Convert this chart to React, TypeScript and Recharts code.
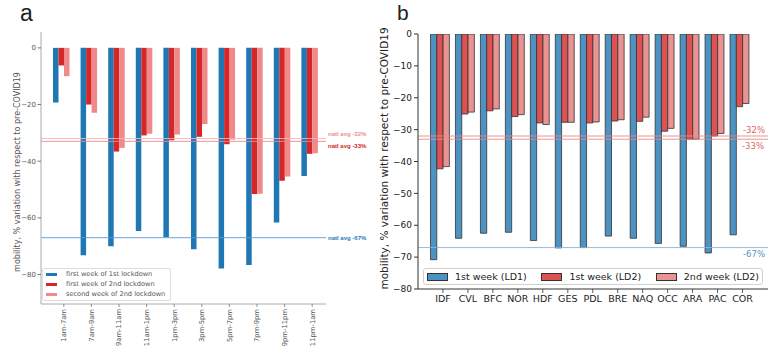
import { BarChart, Bar, XAxis, YAxis, ReferenceLine, Legend } from 'recharts';

// panel a: hourly mobility
const hours = ['1am-7am', '7am-9am', '9am-11am', '11am-1pm', '1pm-3pm', '3pm-5pm', '5pm-7pm', '7pm-9pm', '9pm-11pm', '11pm-1am'];
const hourLd1 = [-19.3, -73.2, -70, -64.6, -66.8, -71.1, -77.9, -76.6, -61.6, -45.2];
const hourLd2w1 = [-6.2, -20, -36.6, -30.9, -32.6, -31.4, -34, -51.6, -46.9, -37.4];
const hourLd2w2 = [-10, -22.9, -35.3, -30.3, -30.6, -26.9, -32.4, -51.5, -45.4, -37.2];
const hourTicks = [0, -20, -40, -60, -80];

// panel b: regions
const regions = ['IDF', 'CVL', 'BFC', 'NOR', 'HDF', 'GES', 'PDL', 'BRE', 'NAQ', 'OCC', 'ARA', 'PAC', 'COR'];
const regLd1 = [-70.8, -64.1, -62.5, -62.2, -64.8, -67.1, -67, -63.4, -64.1, -65.7, -66.6, -68.7, -63];
const regLd2w1 = [-42.3, -25.1, -24.1, -25.9, -27.9, -27.7, -27.9, -27.3, -27.4, -30.5, -33, -32, -22.8];
const regLd2w2 = [-41.6, -24.5, -23.5, -25.3, -28.4, -27.7, -27.6, -26.9, -26.1, -29.6, -33, -31.2, -21.8];
const regTicks = [0, -10, -20, -30, -40, -50, -60, -70, -80];

const hourData = hours.map((h, i) => ({ name: h, ld1: hourLd1[i], ld2w1: hourLd2w1[i], ld2w2: hourLd2w2[i] }));
const regData = regions.map((r, i) => ({ name: r, ld1: regLd1[i], ld2w1: regLd2w1[i], ld2w2: regLd2w2[i] }));

const FONT = 'DejaVu Sans';
const yLabel = 'mobility, % variation with respect to pre-COVID19';
const minus = (v: number) => (v < 0 ? '\u2212' + Math.abs(v) : String(v));

// matplotlib put the ticks a few px right of the bar groups
const HourTick = (props: any) => {
  const { x, y, payload } = props;
  const cx = x + 3;
  return (
    <g>
      <line x1={cx} x2={cx} y1={y - 5} y2={y - 2} stroke="#777" strokeWidth={0.8} />
      <text transform={`translate(${cx},${y}) rotate(-90)`} textAnchor="end" dy="0.35em" fontSize={6.8} fill="#555" fontFamily={FONT}>
        {payload.value}
      </text>
    </g>
  );
};

const RegionTick = (props: any) => {
  const { x, y, payload } = props;
  const cx = x + 3;
  return (
    <g>
      <line x1={cx} x2={cx} y1={y - 6} y2={y - 2} stroke="#333" strokeWidth={0.8} />
      <text x={cx} y={y} dy="0.71em" textAnchor="middle" fontSize={9.5} fill="#222" fontFamily={FONT}>
        {payload.value}
      </text>
    </g>
  );
};

const LegendA = ({ payload }: any) => (
  <div style={{ border: '1px solid #ddd', borderRadius: 2, background: 'rgba(255,255,255,0.85)', padding: '0 3px 1px 3px', width: 129, boxSizing: 'border-box' as const, fontFamily: FONT, textAlign: 'left' as const }}>
    {(payload || []).map((e: any) => (
      <div key={e.value} style={{ display: 'flex', alignItems: 'center', height: 10 }}>
        <span style={{ flexShrink: 0, width: 11, height: 3, background: e.color, marginRight: 9 }} />
        <span style={{ fontSize: 6.6, color: '#555', whiteSpace: 'nowrap' }}>{e.value}</span>
      </div>
    ))}
  </div>
);

const LegendB = ({ payload }: any) => (
  <div style={{ border: '1px solid #d0d0d0', borderRadius: 3, background: 'rgba(255,255,255,0.85)', padding: '0 3px', width: 340, height: 17, boxSizing: 'border-box' as const, display: 'flex', alignItems: 'center', justifyContent: 'space-between', fontFamily: FONT }}>
    {(payload || []).map((e: any) => (
      <div key={e.value} style={{ display: 'flex', alignItems: 'center' }}>
        <span style={{ flexShrink: 0, width: 19, height: 6, background: e.color, border: '0.8px solid #333', marginRight: 7 }} />
        <span style={{ fontSize: 9.5, color: '#222', whiteSpace: 'nowrap' }}>{e.value}</span>
      </div>
    ))}
  </div>
);

export default function App() {
  return (
    <div style={{ position: 'absolute', left: 0, top: 0, width: 780, height: 353, background: '#fff', overflow: 'hidden' }}>
      <div style={{ position: 'absolute', left: 20, top: 0, fontFamily: 'Liberation Sans', fontSize: 23, color: '#222', lineHeight: '26px' }}>a</div>
      <div style={{ position: 'absolute', left: 397, top: 0, fontFamily: 'Liberation Sans', fontSize: 21, color: '#222', lineHeight: '25px' }}>b</div>

      <div style={{ position: 'absolute', left: 0, top: 0 }}>
        <BarChart width={390} height={353} data={hourData} margin={{ top: 32, right: 64, bottom: 0, left: 0 }} barGap={0} barSize={5.5}>
          <XAxis dataKey="name" height={49} padding={{ left: 6, right: 3 }} interval={0} tickSize={3} tickMargin={2} tickLine={false} axisLine={{ stroke: '#aaa' }} tick={<HourTick />} />
          <XAxis xAxisId="top" orientation="top" dataKey="name" height={0} tick={false} tickLine={false} axisLine={{ stroke: '#aaa' }} />
          <YAxis width={41} domain={[-90.4, 5.6]} ticks={hourTicks} allowDataOverflow tickFormatter={minus} tickSize={3.5} tickMargin={1.5}
            tick={{ fontSize: 7, fill: '#555', fontFamily: FONT }} tickLine={{ stroke: '#777' }} axisLine={{ stroke: '#aaa' }}
            label={{ value: yLabel, angle: -90, position: 'center', dx: -3.5, dy: 4, fontSize: 8, fill: '#555', fontFamily: FONT }} />
          <YAxis yAxisId="right" orientation="right" width={0} domain={[0, 1]} tick={false} tickLine={false} axisLine={{ stroke: '#aaa' }} />
          <ReferenceLine y={-67} stroke="#5b9bd5" strokeWidth={0.9}
            label={{ value: 'natl avg -67%', position: 'right', offset: 2, fontSize: 6, fontWeight: 'bold', fill: '#2a7bbd', fontFamily: 'Liberation Sans' }} />
          <ReferenceLine y={-32} stroke="#f5b5b5" strokeWidth={0.9}
            label={{ value: 'natl avg -32%', position: 'right', offset: 2, dy: -5, fontSize: 6, fontWeight: 'bold', fill: '#ef8e8e', fontFamily: 'Liberation Sans' }} />
          <ReferenceLine y={-33} stroke="#ec8a8a" strokeWidth={0.9}
            label={{ value: 'natl avg -33%', position: 'right', offset: 2, dy: 5, fontSize: 6, fontWeight: 'bold', fill: '#d62728', fontFamily: 'Liberation Sans' }} />
          <Bar dataKey="ld1" name="first week of 1st lockdown" fill="#1f77b4" isAnimationActive={false} />
          <Bar dataKey="ld2w1" name="first week of 2nd lockdown" fill="#d62728" isAnimationActive={false} />
          <Bar dataKey="ld2w2" name="second week of 2nd lockdown" fill="#f08a8a" isAnimationActive={false} />
          <Legend layout="vertical" align="center" verticalAlign="middle" content={<LegendA />}
            wrapperStyle={{ left: 42, top: 268, bottom: 'auto', width: 129 }} />
        </BarChart>
      </div>

      <div style={{ position: 'absolute', left: 370, top: 0 }}>
        <BarChart width={410} height={353} data={regData} margin={{ top: 34, right: 12, bottom: 0, left: 0 }} barGap={0} barSize={6.3}>
          <XAxis dataKey="name" height={64} padding={{ left: 9.5, right: 16 }} interval={0} tickSize={4} tickMargin={2} tickLine={false} axisLine={{ stroke: '#333' }} tick={<RegionTick />} />
          <XAxis xAxisId="top" orientation="top" dataKey="name" height={0} tick={false} tickLine={false} axisLine={{ stroke: '#333' }} />
          <YAxis width={48} domain={[-80, 0]} ticks={regTicks} allowDataOverflow tickFormatter={minus} tickSize={4} tickMargin={2}
            tick={{ fontSize: 9, fill: '#222', fontFamily: FONT }} tickLine={{ stroke: '#333' }} axisLine={{ stroke: '#333' }}
            label={{ value: yLabel, angle: -90, position: 'center', dx: -10, dy: -3, fontSize: 10.5, fill: '#222', fontFamily: FONT }} />
          <YAxis yAxisId="right" orientation="right" width={0} domain={[0, 1]} tick={false} tickLine={false} axisLine={{ stroke: '#333' }} />
          <ReferenceLine y={-67} stroke="#8ab2d6" strokeWidth={0.9}
            label={{ value: '-67%', position: 'insideTopRight', offset: 3, fontSize: 8.5, fill: '#5b8fc7', fontFamily: FONT }} />
          <ReferenceLine y={-32} stroke="#e58a8a" strokeWidth={0.9}
            label={{ value: '-32%', position: 'insideBottomRight', offset: 3, fontSize: 8.5, fill: '#e06666', fontFamily: FONT }} />
          <ReferenceLine y={-33} stroke="#e58a8a" strokeWidth={0.9}
            label={{ value: '-33%', position: 'insideTopRight', offset: 4, fontSize: 8.5, fill: '#e06666', fontFamily: FONT }} />
          <Bar dataKey="ld1" name="1st week (LD1)" fill="#4c92c3" stroke="#333" strokeWidth={0.8} isAnimationActive={false} />
          <Bar dataKey="ld2w1" name="1st week (LD2)" fill="#de5253" stroke="#333" strokeWidth={0.8} isAnimationActive={false} />
          <Bar dataKey="ld2w2" name="2nd week (LD2)" fill="#ea9393" stroke="#333" strokeWidth={0.8} isAnimationActive={false} />
          <Legend layout="vertical" align="center" verticalAlign="middle" content={<LegendB />}
            wrapperStyle={{ left: 53, top: 268, bottom: 'auto', width: 340 }} />
        </BarChart>
      </div>
    </div>
  );
}
